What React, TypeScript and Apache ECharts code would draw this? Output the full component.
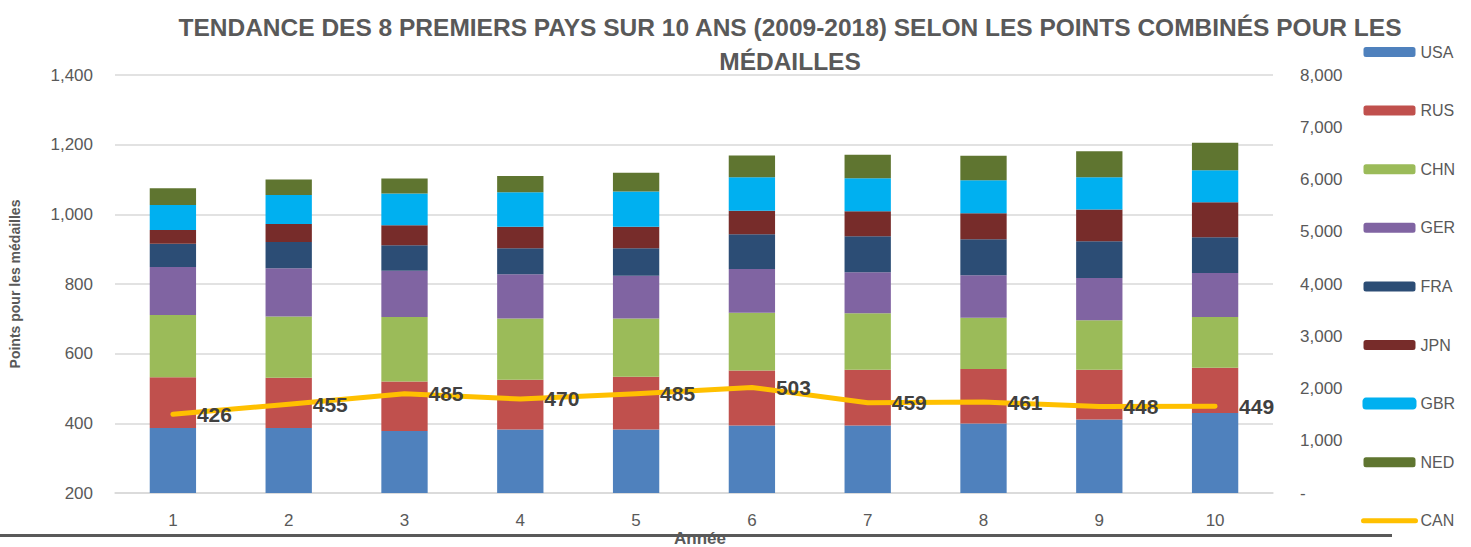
import React, { useEffect, useRef } from "react";
import * as echarts from "echarts";

const categories = ["1", "2", "3", "4", "5", "6", "7", "8", "9", "10"];
const countries = ["USA", "RUS", "CHN", "GER", "FRA", "JPN", "GBR", "NED"];
const USA = [1246, 1246, 1188, 1215, 1215, 1291, 1291, 1330, 1407, 1533];
const RUS = [971, 958, 947, 951, 1008, 1054, 1066, 1041, 950, 863];
const CHN = [1188, 1176, 1232, 1176, 1119, 1105, 1081, 983, 947, 971];
const GER = [920, 920, 888, 843, 817, 837, 786, 812, 811, 843];
const FRA = [447, 505, 486, 499, 525, 665, 690, 690, 703, 685];
const JPN = [263, 344, 383, 414, 414, 452, 479, 499, 606, 670];
const GBR = [478, 556, 606, 659, 670, 640, 632, 632, 620, 614];
const NED = [320, 294, 288, 312, 359, 414, 447, 466, 499, 523];
const CAN = [426, 455, 485, 470, 485, 503, 459, 461, 448, 449];
const barData = [USA, RUS, CHN, GER, FRA, JPN, GBR, NED];
const colors = ["#4F81BD", "#C0504D", "#9BBB59", "#8064A2", "#2C4D75", "#772C2A", "#00B0F0", "#5F7530"];

const titleLine1 = "TENDANCE DES 8 PREMIERS PAYS SUR 10 ANS (2009-2018) SELON LES POINTS COMBINÉS POUR LES";
const titleLine2 = "MÉDAILLES";
const xAxisTitle = "Année";
const yAxisTitle = "Points pour les médailles";

const FONT = "'Liberation Sans', Arial, sans-serif";
const GREY = "#595959";

export default function App() {
  const ref = useRef<HTMLDivElement>(null);
  useEffect(() => {
    if (!ref.current) return;
    const chart = echarts.init(ref.current, null, { renderer: "svg" });
    const barSeries = countries.map((name, i) => ({
      name,
      type: "bar",
      stack: "total",
      yAxisIndex: 1,
      barWidth: "40%",
      data: barData[i],
      itemStyle: name === "GBR"
        ? { color: colors[i], borderColor: colors[i], borderWidth: 2 }
        : { color: colors[i] },
    }));
    chart.setOption({
      animation: false,
      textStyle: { fontFamily: FONT },
      grid: { left: 110, right: 198, top: 75, bottom: 54 },
      graphic: [
        {
          type: "line",
          z: -10,
          shape: { x1: 0, y1: 535.5, x2: 1392, y2: 535.5 },
          style: { stroke: GREY, lineWidth: 3 },
        },
        {
          type: "text",
          x: 790,
          y: 27,
          z: 10,
          style: {
            text: titleLine1,
            fontFamily: FONT,
            fontWeight: "bold",
            fontSize: 24.5,
            fill: GREY,
            textAlign: "center",
            textVerticalAlign: "middle",
          },
        },
        {
          type: "text",
          x: 790,
          y: 61,
          z: 10,
          style: {
            text: titleLine2,
            fontFamily: FONT,
            fontWeight: "bold",
            fontSize: 24.5,
            fill: GREY,
            textAlign: "center",
            textVerticalAlign: "middle",
          },
        },
        {
          type: "text",
          x: 700,
          y: 538,
          z: 10,
          style: {
            text: xAxisTitle,
            fontFamily: FONT,
            fontWeight: "bold",
            fontSize: 17,
            fill: GREY,
            textAlign: "center",
            textVerticalAlign: "middle",
          },
        },
      ],
      legend: {
        orient: "vertical",
        left: 1361,
        top: 43,
        padding: 0,
        itemWidth: 52,
        itemHeight: 10,
        itemGap: 40.6,
        textStyle: { fontSize: 16, color: GREY, fontFamily: FONT, lineHeight: 18, padding: [0, 0, 0, 0] },
        data: [
          ...countries,
          { name: "CAN", itemStyle: { opacity: 0 }, lineStyle: { width: 5, cap: "round", color: "#FFC000" } },
        ],
      },
      xAxis: {
        type: "category",
        data: categories,
        axisLine: { show: true, lineStyle: { color: "#D9D9D9", width: 1.5 } },
        axisTick: { show: false },
        axisLabel: { fontSize: 17, color: GREY, margin: 19 },
      },
      yAxis: [
        {
          type: "value",
          min: 200,
          max: 1400,
          interval: 200,
          name: yAxisTitle,
          nameLocation: "middle",
          nameGap: 93,
          nameRotate: 90,
          nameTextStyle: { fontWeight: "bold", fontSize: 14, color: GREY, fontFamily: FONT },
          axisLine: { show: false },
          axisTick: { show: false },
          axisLabel: {
            fontSize: 17,
            color: GREY,
            margin: 22,
            formatter: (v: number) => v.toLocaleString("en-US"),
          },
          splitLine: { lineStyle: { color: "#D9D9D9", width: 1.5 } },
        },
        {
          type: "value",
          min: 0,
          max: 8000,
          interval: 1000,
          position: "right",
          axisLine: { show: false },
          axisTick: { show: false },
          splitLine: { show: false },
          axisLabel: {
            fontSize: 17,
            color: GREY,
            margin: 27,
            formatter: (v: number) => (v === 0 ? "-" : v.toLocaleString("en-US")),
          },
        },
      ],
      series: [
        ...barSeries,
        {
          name: "CAN",
          type: "line",
          yAxisIndex: 0,
          data: CAN,
          symbol: "circle",
          symbolSize: 0.01,
          showSymbol: true,
          z: 5,
          lineStyle: { color: "#FFC000", width: 5, cap: "round", join: "round" },
          itemStyle: { color: "#FFC000" },
          label: {
            show: true,
            position: "right",
            distance: 24,
            fontSize: 21,
            fontWeight: "bold",
            color: "#404040",
            fontFamily: FONT,
          },
        },
      ],
    });
    return () => chart.dispose();
  }, []);
  return (
    <div
      ref={ref}
      style={{ position: "fixed", left: 0, top: 0, width: 1471, height: 547, background: "#fff" }}
    />
  );
}
